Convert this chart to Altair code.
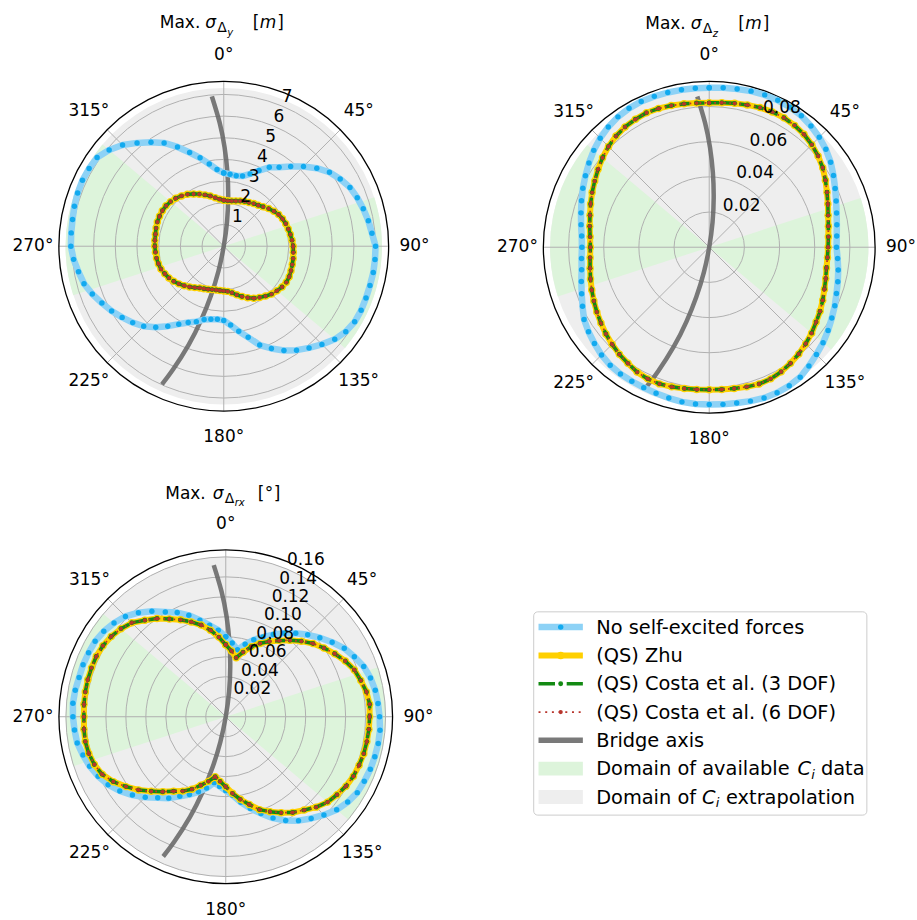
import altair as alt
import pandas as pd

# Wind directions (degrees, clockwise from north) at which responses were computed
ANGLES = list(range(0, 360, 5))

# Max. std of lateral displacement [m]
dy_none = [3.38, 3.33, 3.30, 3.35, 3.55, 3.85, 4.20, 4.45, 4.80, 5.20, 5.60, 5.95,
           6.20, 6.42, 6.55, 6.66, 6.77, 6.86, 7.00, 7.00, 7.00, 6.98, 6.98, 6.99,
           6.97, 6.87, 6.68, 6.40, 6.12, 5.85, 5.55, 5.20, 4.85, 4.35, 3.98, 3.65,
           3.42, 3.38, 3.42, 3.50, 3.70, 3.88, 4.15, 4.50, 4.88, 5.22, 5.48, 5.72,
           5.97, 6.20, 6.45, 6.67, 6.80, 6.95, 7.05, 7.06, 7.08, 7.13, 7.17, 7.19,
           7.17, 7.13, 6.90, 6.60, 6.22, 5.85, 5.50, 5.05, 4.60, 4.22, 3.85, 3.55]
dy_qs = [2.12, 2.10, 2.12, 2.16, 2.22, 2.28, 2.33, 2.40, 2.47, 2.57, 2.70, 2.82,
         2.92, 2.99, 3.04, 3.08, 3.12, 3.16, 3.20, 3.22, 3.25, 3.27, 3.30, 3.33,
         3.33, 3.28, 3.20, 3.12, 3.00, 2.88, 2.77, 2.62, 2.47, 2.32, 2.18, 2.09,
         2.06, 2.05, 2.05, 2.07, 2.11, 2.16, 2.22, 2.33, 2.45, 2.57, 2.70, 2.82,
         2.92, 3.00, 3.08, 3.12, 3.15, 3.16, 3.18, 3.19, 3.20, 3.23, 3.26, 3.27,
         3.27, 3.25, 3.20, 3.13, 3.03, 2.92, 2.78, 2.65, 2.52, 2.40, 2.27, 2.18]

# Max. std of vertical displacement [m]
dz_none = [0.0907, 0.0910, 0.0914, 0.0919, 0.0922, 0.0922, 0.0920, 0.0913, 0.0900, 0.0885, 0.0866, 0.0843,
           0.0816, 0.0790, 0.0768, 0.0750, 0.0737, 0.0728, 0.0724, 0.0733, 0.0745, 0.0757, 0.0770, 0.0788,
           0.0805, 0.0825, 0.0845, 0.0862, 0.0882, 0.0902, 0.0910, 0.0913, 0.0912, 0.0906, 0.0900, 0.0897,
           0.0895, 0.0895, 0.0893, 0.0888, 0.0884, 0.0881, 0.0880, 0.0880, 0.0876, 0.0866, 0.0852, 0.0838,
           0.0822, 0.0795, 0.0772, 0.0753, 0.0737, 0.0729, 0.0724, 0.0728, 0.0740, 0.0755, 0.0773, 0.0793,
           0.0813, 0.0835, 0.0857, 0.0877, 0.0893, 0.0905, 0.0912, 0.0915, 0.0913, 0.0911, 0.0909, 0.0908]
dz_qs = [0.0821, 0.0825, 0.0831, 0.0838, 0.0845, 0.0849, 0.0850, 0.0846, 0.0838, 0.0825, 0.0808, 0.0788,
         0.0763, 0.0739, 0.0718, 0.0700, 0.0688, 0.0680, 0.0676, 0.0675, 0.0677, 0.0686, 0.0697, 0.0712,
         0.0728, 0.0742, 0.0760, 0.0776, 0.0792, 0.0806, 0.0818, 0.0826, 0.0828, 0.0822, 0.0816, 0.0812,
         0.0810, 0.0812, 0.0816, 0.0822, 0.0827, 0.0826, 0.0820, 0.0806, 0.0795, 0.0781, 0.0767, 0.0752,
         0.0738, 0.0724, 0.0711, 0.0699, 0.0688, 0.0680, 0.0676, 0.0680, 0.0690, 0.0702, 0.0718, 0.0735,
         0.0752, 0.0772, 0.0792, 0.0810, 0.0825, 0.0835, 0.0840, 0.0844, 0.0840, 0.0834, 0.0828, 0.0823]

# Max. std of torsional rotation [deg]
rx_none = [0.080, 0.074, 0.068, 0.075, 0.082, 0.088, 0.095, 0.102, 0.109, 0.116, 0.123, 0.130,
           0.137, 0.142, 0.147, 0.150, 0.152, 0.153, 0.154, 0.155, 0.155, 0.1545, 0.154, 0.153,
           0.152, 0.149, 0.145, 0.139, 0.133, 0.127, 0.120, 0.112, 0.103, 0.095, 0.087, 0.079,
           0.074, 0.070, 0.067, 0.074, 0.080, 0.086, 0.092, 0.0995, 0.106, 0.114, 0.122, 0.1295,
           0.136, 0.141, 0.145, 0.148, 0.151, 0.152, 0.153, 0.1536, 0.153, 0.152, 0.152, 0.1515,
           0.151, 0.149, 0.146, 0.142, 0.136, 0.129, 0.121, 0.115, 0.108, 0.100, 0.093, 0.087]
rx_qs = [0.072, 0.066, 0.060, 0.067, 0.0746, 0.081, 0.087, 0.093, 0.100, 0.107, 0.114, 0.120,
         0.126, 0.132, 0.137, 0.140, 0.143, 0.1446, 0.144, 0.1438, 0.1434, 0.143, 0.142, 0.141,
         0.139, 0.136, 0.133, 0.128, 0.122, 0.117, 0.111, 0.105, 0.099, 0.091, 0.084, 0.077,
         0.070, 0.065, 0.061, 0.067, 0.073, 0.080, 0.086, 0.091, 0.098, 0.1056, 0.114, 0.122,
         0.130, 0.1365, 0.140, 0.142, 0.1428, 0.1425, 0.142, 0.1425, 0.1428, 0.143, 0.143, 0.143,
         0.142, 0.140, 0.137, 0.133, 0.126, 0.120, 0.113, 0.107, 0.101, 0.095, 0.088, 0.080]

# Bridge girder plan shape, as a fraction of the radial axis limit (east, north)
BRIDGE_X = [-0.072, -0.025, 0.005, 0.022, 0.027, 0.020, 0.000, -0.032, -0.078, -0.138, -0.214, -0.309, -0.375]
BRIDGE_Y = [0.909, 0.750, 0.600, 0.450, 0.300, 0.150, 0.000, -0.150, -0.300, -0.450, -0.600, -0.750, -0.838]

# Wind sectors covered by the measured aerodynamic coefficients (deg)
AVAILABLE_SECTORS = [(72, 130), (252, 310)]
SPOKES = [0, 45, 90, 135, 180, 225, 270, 315]
RLABEL_ANGLE = 22.5

LEGEND_LABELS = ["No self-excited forces", "(QS) Zhu", "(QS) Costa et al. (3 DOF)",
                 "(QS) Costa et al. (6 DOF)", "Bridge axis"]

FONT = "DejaVu Sans"
BLUE_LINE = "#8dd2f6"
BLUE_DOT = "#12aaef"
GOLD = "#ffd000"
GREEN = "#138a13"
RED = "#b8352c"
BRIDGE_C = "#6a6a6a"
AVAIL = "#ddf4db"
EXTRAP = "#eeeeee"
GRID = "#b0b0b0"
DEG = "PI / 180"


def closed(vals):
    a = ANGLES + [360]
    v = list(vals) + [vals[0]]
    return pd.DataFrame({"angle": a, "r": v, "i": list(range(len(a)))})


def text_piece(txt, x, y, size, style="normal", align="left"):
    return alt.Chart(pd.DataFrame({"t": [txt]})).mark_text(
        font=FONT, fontSize=size, fontStyle=style, align=align,
        baseline="alphabetic", color="black"
    ).encode(text="t:N", x=alt.value(x), y=alt.value(y))


def polar_panel(none_vals, qs_vals, rmax, R, rings, ring_text, title_parts, anchor=None):
    W = 2 * R
    xs = alt.Scale(domain=[-rmax, rmax], nice=False, zero=False)
    ys = alt.Scale(domain=[-rmax, rmax], nice=False, zero=False)
    rs = alt.Scale(type="linear", domain=[0, rmax], range=[0, R], nice=False, zero=True)
    X = alt.X("px:Q", scale=xs, axis=None)
    Y = alt.Y("py:Q", scale=ys, axis=None)

    def polar(ch):
        return ch.transform_calculate(
            px=f"datum.r * sin(datum.angle * {DEG})",
            py=f"datum.r * cos(datum.angle * {DEG})",
        )

    def arc_layer(df, **mark):
        return alt.Chart(df).transform_calculate(
            t0=f"datum.a0 * {DEG}", t1=f"datum.a1 * {DEG}"
        ).mark_arc(**mark).encode(
            theta=alt.Theta("t0:Q", scale=None, stack=None),
            theta2=alt.Theta2("t1:Q"),
            radius=alt.Radius("r:Q", scale=rs),
        )

    fill_r = 0.96 * rmax
    disk = arc_layer(pd.DataFrame({"a0": [0], "a1": [360], "r": [fill_r]}),
                     fill=EXTRAP, strokeWidth=0)
    wedges = arc_layer(pd.DataFrame({"a0": [a for a, _ in AVAILABLE_SECTORS],
                                     "a1": [b for _, b in AVAILABLE_SECTORS],
                                     "r": [fill_r] * len(AVAILABLE_SECTORS)}),
                       fill=AVAIL, strokeWidth=0)
    ring_arcs = arc_layer(pd.DataFrame({"a0": [0] * len(rings), "a1": [360] * len(rings), "r": rings}),
                          fillOpacity=0, stroke=GRID, strokeWidth=1)
    frame = arc_layer(pd.DataFrame({"a0": [0], "a1": [360], "r": [rmax]}),
                      fillOpacity=0, stroke="black", strokeWidth=1.3)

    spokes = polar(alt.Chart(pd.DataFrame({"angle": SPOKES, "r": [rmax] * len(SPOKES)}))) \
        .transform_calculate(ox="0", oy="0") \
        .mark_rule(color=GRID, strokeWidth=1).encode(
            x=alt.X("ox:Q", scale=xs, axis=None), y=alt.Y("oy:Q", scale=ys, axis=None),
            x2="px:Q", y2="py:Q")

    bridge = alt.Chart(pd.DataFrame({"bx": BRIDGE_X, "by": BRIDGE_Y, "i": list(range(len(BRIDGE_X)))})) \
        .transform_calculate(px=f"datum.bx * {rmax}", py=f"datum.by * {rmax}") \
        .mark_line(color=BRIDGE_C, strokeWidth=4.5, opacity=0.9, interpolate="natural") \
        .encode(x=X, y=Y, order="i:Q")

    def series(vals, line_kw, dot_color, dot_size):
        base = polar(alt.Chart(closed(vals))).encode(x=X, y=Y, order="i:Q")
        return [base.mark_line(**line_kw),
                base.mark_circle(color=dot_color, size=dot_size, opacity=1)]

    curves = []
    curves += series(none_vals, dict(color=BLUE_LINE, strokeWidth=6.5, strokeJoin="round"), BLUE_DOT, 30)
    curves += series(qs_vals, dict(color=GOLD, strokeWidth=6, strokeJoin="round"), GOLD, 56)
    curves += series(qs_vals, dict(color=GREEN, strokeWidth=3.5, strokeDash=[10, 5]), GREEN, 24)
    curves += series(qs_vals, dict(color=RED, strokeWidth=1.8, strokeDash=[1.8, 3.2]), RED, 15)

    rlabels = polar(alt.Chart(pd.DataFrame({"r": rings, "label": ring_text,
                                            "angle": [RLABEL_ANGLE] * len(rings)}))) \
        .mark_text(font=FONT, fontSize=17, align="left", baseline="alphabetic", dy=-4, color="black") \
        .encode(x=X, y=Y, text="label:N")

    alabels = polar(alt.Chart(pd.DataFrame({"angle": SPOKES,
                                            "label": [f"{a}°" for a in SPOKES],
                                            "r": [rmax * (R + 26) / R] * len(SPOKES)}))) \
        .mark_text(font=FONT, fontSize=17, align="center", baseline="middle", color="black") \
        .encode(x=X, y=Y, text="label:N")

    ty = R - 218
    title = [text_piece(t, R + dx, ty + dy, size, style, align)
             for (t, dx, dy, size, style, align) in title_parts]

    layers = [disk, wedges, ring_arcs, spokes, frame, bridge] + curves + [rlabels, alabels] + title
    if anchor is not None:
        layers.append(alt.Chart(pd.DataFrame({"k": [0]})).mark_point(opacity=0, size=1)
                      .encode(x=alt.value(-anchor[0]), y=alt.value(-anchor[1])))
    return alt.layer(*layers).properties(width=W, height=W)


TITLE_Y = [("Max.", -23.5, 0, 17, "normal", "right"), ("σ", -18.5, 0, 17, "italic", "left"),
           ("Δ", -6.5, 4, 14, "normal", "left"), ("y", 3.5, 7.5, 10, "italic", "left"),
           ("[", 29, 0, 17, "normal", "left"), ("m", 36, 0, 17, "italic", "left"),
           ("]", 53.5, 0, 17, "normal", "left")]
TITLE_Z = [("Max.", -23.5, 0, 17, "normal", "right"), ("σ", -18.5, 0, 17, "italic", "left"),
           ("Δ", -6.5, 4, 14, "normal", "left"), ("z", 3.5, 7.5, 10, "italic", "left"),
           ("[", 29, 0, 17, "normal", "left"), ("m", 36, 0, 17, "italic", "left"),
           ("]", 53.5, 0, 17, "normal", "left")]
TITLE_RX = [("Max.", -20, 0, 17, "normal", "right"), ("σ", -13, 0, 17, "italic", "left"),
            ("Δ", -1, 4, 14, "normal", "left"), ("rx", 9, 7.5, 10, "italic", "left"),
            ("[", 32, 0, 17, "normal", "left"), ("°", 39, 0, 17, "normal", "left"),
            ("]", 48, 0, 17, "normal", "left")]

p_dy = polar_panel(dy_none, dy_qs, 7.6, 165, [1, 2, 3, 4, 5, 6, 7],
                   ["1", "2", "3", "4", "5", "6", "7"], TITLE_Y, anchor=(58.5, 80))
p_dz = polar_panel(dz_none, dz_qs, 0.0943, 166, [0.02, 0.04, 0.06, 0.08],
                   ["0.02", "0.04", "0.06", "0.08"], TITLE_Z)
rx_rings = [0.02, 0.04, 0.06, 0.08, 0.10, 0.12, 0.14, 0.16]
p_rx = polar_panel(rx_none, rx_qs, 0.167, 167, rx_rings,
                   [f"{v:.2f}" for v in rx_rings], TITLE_RX)

# legend frame sits 10 px left of the right-hand column
LX = -10.2


def legend_panel():
    rows = alt.Scale(domain=[0, 6], range=[77.3, 247.3], nice=False, zero=False)
    Yr = alt.Y("row:Q", scale=rows, axis=None)

    def row_chart(i):
        return alt.Chart(pd.DataFrame({"row": [i]}))

    def handle(i, **kw):
        return row_chart(i).mark_rule(**kw).encode(y=Yr, x=alt.value(LX + 5.3), x2=alt.value(LX + 49.7))

    def dot(i, color, size):
        return row_chart(i).mark_circle(color=color, size=size, opacity=1).encode(y=Yr, x=alt.value(LX + 27.5))

    def label(i, txt, x, size=19.4, style="normal", dy=6.7):
        return alt.Chart(pd.DataFrame({"row": [i], "t": [txt]})).mark_text(
            font=FONT, fontSize=size, fontStyle=style, align="left", baseline="alphabetic",
            dy=dy, color="black").encode(y=Yr, x=alt.value(LX + x), text="t:N")

    box = alt.Chart(pd.DataFrame({"k": [0]})).mark_rect(
        fill="white", stroke="#cccccc", strokeWidth=1, cornerRadius=4
    ).encode(x=alt.value(LX + 0.5), x2=alt.value(LX + 334), y=alt.value(62), y2=alt.value(265.5))

    layers = [box,
              handle(0, color=BLUE_LINE, strokeWidth=6.5), dot(0, BLUE_DOT, 30),
              handle(1, color=GOLD, strokeWidth=6), dot(1, GOLD, 56),
              handle(2, color=GREEN, strokeWidth=3.5, strokeDash=[16.5, 11.7]), dot(2, GREEN, 24),
              handle(3, color=RED, strokeWidth=1.8, strokeDash=[2, 4.7]), dot(3, RED, 18),
              handle(4, color=BRIDGE_C, strokeWidth=5.5, opacity=0.9),
              handle(5, color=AVAIL, strokeWidth=14),
              handle(6, color=EXTRAP, strokeWidth=14)]
    layers += [label(i, t, 63) for i, t in enumerate(LEGEND_LABELS)]
    layers += [label(5, "Domain of available", 63), label(5, "C", 264.5, style="italic"),
               label(5, "i", 278.3, size=13, style="italic", dy=10.5), label(5, "data", 288),
               label(6, "Domain of", 63), label(6, "C", 169, style="italic"),
               label(6, "i", 182.8, size=13, style="italic", dy=10.5), label(6, "extrapolation", 193)]
    return alt.layer(*layers).properties(width=320, height=334)


chart = alt.concat(
    p_dy, p_dz, p_rx, legend_panel(),
    columns=2, spacing={"row": 137, "column": 151}, bounds="flush"
).properties(
    padding={"left": 0, "top": 0, "right": 0, "bottom": 0}
).configure_view(strokeWidth=0)

chart.save("out.html", embed_options={"renderer": "svg", "actions": False})
